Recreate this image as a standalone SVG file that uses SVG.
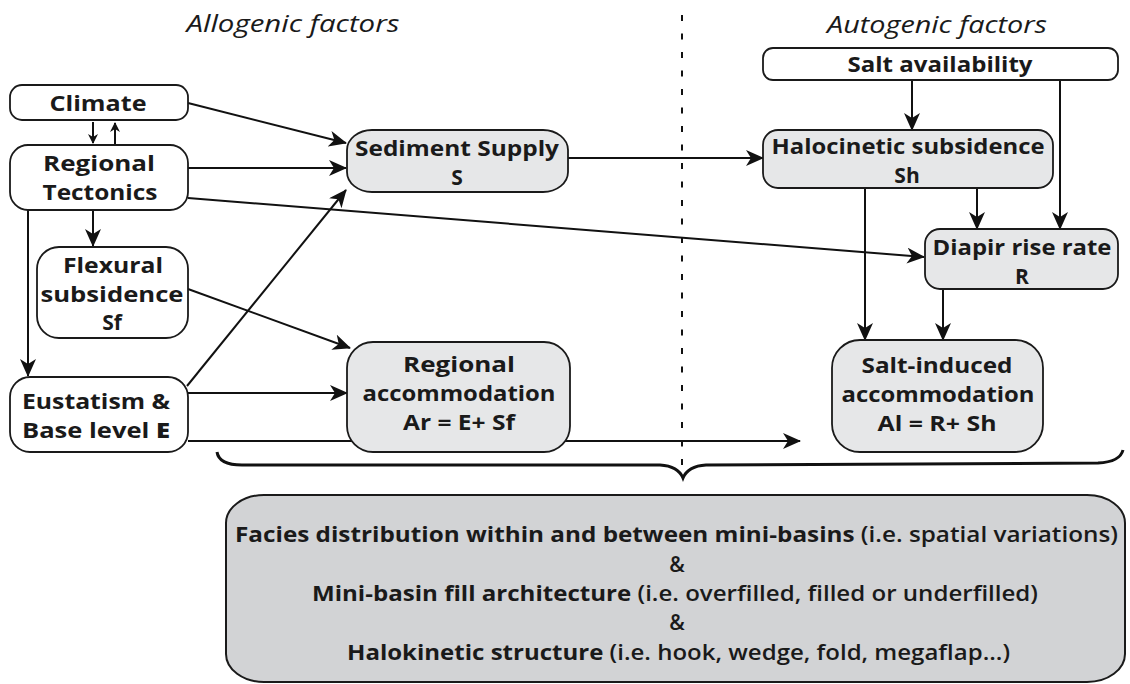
<svg xmlns="http://www.w3.org/2000/svg" width="1130" height="684" viewBox="0 0 1130 684">
<defs>
<style>
.box{fill:#ffffff;stroke:#1a1a1a;stroke-width:1.8}
.gbox{fill:#e6e7e8;stroke:#1a1a1a;stroke-width:1.8}
.big{fill:#d2d3d5;stroke:#1a1a1a;stroke-width:2}
.t{font-family:"Open Sans","Liberation Sans",sans-serif;font-weight:bold;font-size:21px;fill:#1a1a1a;text-anchor:middle}
.title{font-family:"Open Sans","Liberation Sans",sans-serif;font-style:italic;font-size:24px;fill:#1a1a1a}
.b{font-family:"Open Sans","Liberation Sans",sans-serif;font-size:21px;font-weight:600;fill:#1a1a1a}
.bb{font-weight:bold}
.c{fill:none;stroke:#111;stroke-width:2}
</style>
<marker id="ah" markerUnits="userSpaceOnUse" markerWidth="18" markerHeight="16" refX="17" refY="8" orient="auto"><path d="M0,0 L18,8 L0,16 L5,8 z" fill="#111"/></marker>
<marker id="as" markerUnits="userSpaceOnUse" markerWidth="10" markerHeight="10" refX="9" refY="5" orient="auto"><path d="M0,0 L10,5 L0,10 L3,5 z" fill="#111"/></marker>
</defs>
<rect width="1130" height="684" fill="#ffffff"/>
<text class="title" x="293" y="32" text-anchor="middle" textLength="213" lengthAdjust="spacingAndGlyphs">Allogenic factors</text>
<text class="title" x="827" y="33" textLength="220" lengthAdjust="spacingAndGlyphs">Autogenic factors</text>
<line x1="682" y1="15" x2="682" y2="470" stroke="#111" stroke-width="2" stroke-dasharray="6 12.5"/>
<g id="connectors">
<path class="c" d="M188,103 L346,143" marker-end="url(#ah)"/>
<path class="c" d="M188,168 L346,168" marker-end="url(#ah)"/>
<path class="c" d="M188,198 L924,257" marker-end="url(#ah)"/>
<path class="c" d="M93,210 L93,246" marker-end="url(#ah)"/>
<path class="c" d="M28,210 L28,376" marker-end="url(#ah)"/>
<path class="c" d="M188,289 L350,348" marker-end="url(#ah)"/>
<path class="c" d="M187,386 L346,190" marker-end="url(#ah)"/>
<path class="c" d="M188,393 L347,393" marker-end="url(#ah)"/>
<path class="c" d="M188,441 L800,441" marker-end="url(#ah)"/>
<path class="c" d="M568,158 L763,158" marker-end="url(#ah)"/>
<path class="c" d="M912,80 L912,130" marker-end="url(#ah)"/>
<path class="c" d="M1060,80 L1060,229" marker-end="url(#ah)"/>
<path class="c" d="M977,188 L977,229" marker-end="url(#ah)"/>
<path class="c" d="M865,188 L865,340" marker-end="url(#ah)"/>
<path class="c" d="M943,289 L943,340" marker-end="url(#ah)"/>
<path class="c" d="M93,122 L93,143" marker-end="url(#as)"/>
<path class="c" d="M115,144 L115,123" marker-end="url(#as)"/>
<path d="M217,452 Q219,465 242,465 L660,465 Q678,466 683,478 Q688,466 706,465 L1098,463 Q1120,462 1123,450" fill="none" stroke="#111" stroke-width="3"/>
</g>
<g id="climate"><rect class="box" x="10" y="85" width="178" height="35" rx="12"/><text class="t" x="98" y="111" textLength="97" lengthAdjust="spacingAndGlyphs">Climate</text></g>
<g id="tectonics"><rect class="box" x="10" y="145" width="178" height="65" rx="18"/><text class="t" x="99" y="171" textLength="112" lengthAdjust="spacingAndGlyphs">Regional</text><text class="t" x="100" y="200" textLength="115" lengthAdjust="spacingAndGlyphs">Tectonics</text></g>
<g id="flexural"><rect class="box" x="37" y="247" width="151" height="91" rx="22"/><text class="t" x="113" y="273" textLength="100" lengthAdjust="spacingAndGlyphs">Flexural</text><text class="t" x="112" y="302" textLength="143" lengthAdjust="spacingAndGlyphs">subsidence</text><text class="t" x="112" y="330">Sf</text></g>
<g id="eustatism"><rect class="box" x="10" y="377" width="178" height="75" rx="20"/><text class="t" x="96" y="409" textLength="148" lengthAdjust="spacingAndGlyphs">Eustatism &amp;</text><text class="t" x="96" y="438" textLength="148" lengthAdjust="spacingAndGlyphs">Base level <tspan font-weight="800">E</tspan></text></g>
<g id="sediment"><rect class="gbox" x="347" y="130" width="221" height="62" rx="25" ry="20"/><text class="t" x="457" y="156" textLength="204" lengthAdjust="spacingAndGlyphs">Sediment Supply</text><text class="t" x="457" y="185">S</text></g>
<g id="regional-accommodation"><rect class="gbox" x="347" y="342" width="223" height="110" rx="26"/><text class="t" x="459" y="372" textLength="112" lengthAdjust="spacingAndGlyphs">Regional</text><text class="t" x="459" y="401" textLength="193" lengthAdjust="spacingAndGlyphs">accommodation</text><text class="t" x="459" y="430" textLength="112" lengthAdjust="spacingAndGlyphs">Ar = E+ Sf</text></g>
<g id="salt-availability"><rect class="box" x="763" y="48" width="355" height="32" rx="10"/><text class="t" x="940" y="72" textLength="185" lengthAdjust="spacingAndGlyphs">Salt availability</text></g>
<g id="halocinetic"><rect class="gbox" x="763" y="130" width="290" height="58" rx="15"/><text class="t" x="908" y="154" textLength="273" lengthAdjust="spacingAndGlyphs">Halocinetic subsidence</text><text class="t" x="907" y="183">Sh</text></g>
<g id="diapir"><rect class="gbox" x="925" y="229" width="193" height="60" rx="15"/><text class="t" x="1022" y="255" textLength="179" lengthAdjust="spacingAndGlyphs">Diapir rise rate</text><text class="t" x="1022" y="284">R</text></g>
<g id="salt-induced"><rect class="gbox" x="832" y="340" width="211" height="112" rx="28"/><text class="t" x="937" y="373" textLength="151" lengthAdjust="spacingAndGlyphs">Salt-induced</text><text class="t" x="938" y="402" textLength="193" lengthAdjust="spacingAndGlyphs">accommodation</text><text class="t" x="937" y="431" textLength="119" lengthAdjust="spacingAndGlyphs">Al = R+ Sh</text></g>
<g id="outcome"><rect class="big" x="226" y="495" width="899" height="187" rx="38" ry="28"/>
<text class="b" x="235" y="542" textLength="883" lengthAdjust="spacingAndGlyphs"><tspan class="bb">Facies distribution within and between mini-basins</tspan>  (i.e. spatial  variations)</text>
<text class="b" x="677" y="572" text-anchor="middle">&amp;</text>
<text class="b" x="312" y="601" textLength="726" lengthAdjust="spacingAndGlyphs"><tspan class="bb">Mini-basin fill architecture</tspan>  (i.e. overfilled, filled or underfilled)</text>
<text class="b" x="677" y="630" text-anchor="middle">&amp;</text>
<text class="b" x="347" y="660" textLength="663" lengthAdjust="spacingAndGlyphs"><tspan class="bb">Halokinetic structure</tspan> (i.e. hook, wedge, fold, megaflap...)</text>
</g>
</svg>
